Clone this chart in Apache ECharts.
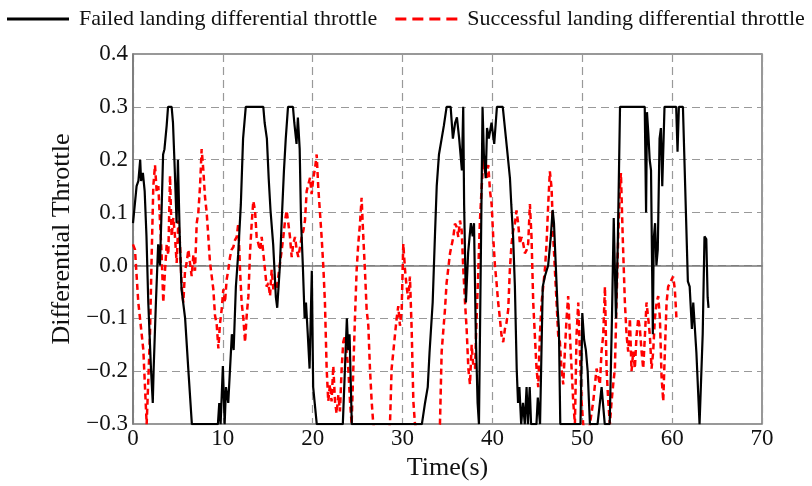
<!DOCTYPE html>
<html>
<head>
<meta charset="utf-8">
<script src="https://cdn.jsdelivr.net/npm/echarts@6/dist/echarts.min.js"></script>
<style>html,body{margin:0;padding:0;background:#fff}#c{width:812px;height:486px}</style>
</head>
<body>
<div id="c"></div>
<script>
var xTicks = [0, 10, 20, 30, 40, 50, 60, 70];
var yTicks = [-0.3, -0.2, -0.1, 0.0, 0.1, 0.2, 0.3, 0.4];
var seriesNames = ['Failed landing differential throttle', 'Successful landing differential throttle'];

var failedData = [
[0,0.08],[0.4,0.15],[0.6,0.16],[0.8,0.2],[0.9,0.16],[1.1,0.175],[1.3,0.14],[1.5,0.055],[1.7,-0.07],[2.0,-0.195],
[2.2,-0.26],[2.3,-0.195],[2.55,-0.07],[2.8,0.04],[3.0,0.0],[3.2,0.115],[3.35,0.21],[3.5,0.22],[3.75,0.265],[3.9,0.3],
[4.3,0.3],[4.45,0.27],[4.65,0.18],[4.85,0.08],[5.0,0.2],[5.2,0.055],[5.4,-0.045],[5.8,-0.1],[6.15,-0.195],[6.55,-0.3],
[9.45,-0.3],[9.6,-0.26],[9.75,-0.3],[10.0,-0.19],[10.2,-0.3],[10.35,-0.23],[10.6,-0.26],[11.0,-0.13],[11.2,-0.16],[11.45,-0.04],
[11.7,0.02],[12.0,0.115],[12.25,0.24],[12.55,0.3],[14.5,0.3],[14.65,0.27],[14.9,0.24],[15.1,0.165],[15.3,0.105],[15.6,0.04],
[15.9,-0.06],[16.05,-0.08],[16.35,0.0],[16.55,0.085],[16.8,0.18],[17.0,0.24],[17.25,0.3],[17.8,0.3],[17.95,0.27],[18.2,0.23],
[18.35,0.28],[18.55,0.22],[18.7,0.085],[18.9,0.0],[19.1,-0.1],[19.25,-0.07],[19.45,-0.13],[19.65,-0.195],[19.9,-0.01],[20.05,-0.23],
[20.45,-0.3],[23.35,-0.3],[23.8,-0.1],[23.95,-0.16],[24.1,-0.13],[24.35,-0.3],[32.15,-0.3],[32.5,-0.26],[32.8,-0.23],[33.0,-0.165],
[33.35,-0.07],[33.6,0.055],[33.8,0.15],[34.05,0.21],[34.35,0.24],[34.6,0.265],[34.9,0.3],[35.35,0.3],[35.6,0.24],[35.85,0.27],
[36.05,0.28],[36.3,0.24],[36.6,0.18],[36.75,0.3],[36.85,0.115],[37.05,-0.07],[37.3,0.025],[37.6,0.08],[37.8,0.055],[37.95,0.08],
[38.15,-0.13],[38.35,-0.26],[38.5,-0.3],[38.7,-0.3],[38.9,0.3],[39.05,0.21],[39.25,0.165],[39.4,0.26],[39.6,0.24],[39.9,0.27],
[40.2,0.23],[40.5,0.3],[41.15,0.3],[41.6,0.225],[41.95,0.165],[42.1,0.115],[42.3,0.055],[42.5,-0.04],[42.7,-0.195],[42.85,-0.26],
[43.0,-0.23],[43.2,-0.3],[43.4,-0.26],[43.6,-0.3],[43.8,-0.23],[43.95,-0.3],[44.15,-0.23],[44.3,-0.3],[44.9,-0.3],[45.05,-0.25],
[45.3,-0.3],[45.6,-0.04],[45.85,-0.02],[46.2,0.0],[46.5,0.055],[46.7,0.105],[46.85,0.08],[47.05,0.0],[47.25,-0.08],[47.4,-0.12],
[47.55,-0.3],[49.8,-0.3],[50.0,-0.09],[50.2,-0.14],[50.4,-0.16],[50.6,-0.2],[50.85,-0.3],[51.7,-0.3],[52.15,-0.23],[52.5,-0.3],
[53.05,-0.3],[53.3,-0.1],[53.5,0.09],[53.75,-0.1],[53.95,0.04],[54.2,0.3],[56.95,0.3],[57.1,0.1],[57.2,0.29],[57.35,0.25],
[57.5,0.2],[57.65,0.18],[57.85,-0.13],[57.95,0.05],[58.1,0.08],[58.25,0.0],[58.4,0.03],[58.6,0.24],[58.75,0.26],[58.9,0.15],
[59.15,0.3],[60.45,0.3],[60.6,0.215],[60.75,0.3],[61.2,0.3],[61.75,-0.03],[61.95,-0.04],[62.2,-0.12],[62.35,-0.07],[62.7,-0.165],
[63.05,-0.3],[63.2,-0.3],[63.4,-0.13],[63.6,0.055],[63.8,0.05],[63.95,-0.06],[64.05,-0.08]
];

var successData = [
[0.0,0.04],[0.22,0.03],[0.59,-0.07],[0.78,-0.10],[1.15,-0.16],[1.52,-0.30],[1.89,-0.13],[2.08,0.02],[2.26,0.15],[2.45,0.19],
[2.63,0.14],[2.82,0.15],[3.0,0.085],[3.19,0.02],[3.37,-0.07],[3.56,-0.01],[3.75,0.04],[3.93,0.02],[4.12,0.17],[4.3,0.055],
[4.49,0.09],[4.67,0.055],[4.86,0.005],[5.05,0.085],[5.23,0.04],[5.42,-0.04],[5.6,-0.07],[5.79,-0.01],[5.97,0.005],[6.16,0.03],
[6.34,0.005],[6.53,-0.02],[6.72,0.02],[6.9,-0.01],[7.09,0.08],[7.27,0.10],[7.46,0.15],[7.64,0.22],[7.83,0.18],[8.01,0.13],
[8.2,0.10],[8.38,0.055],[8.57,0.005],[8.76,-0.02],[8.94,-0.045],[9.13,-0.095],[9.31,-0.11],[9.5,-0.157],[9.68,-0.11],[9.87,-0.083],
[10.05,-0.045],[10.24,-0.07],[10.42,-0.027],[10.61,-0.008],[10.8,0.016],[10.98,0.03],[11.17,0.035],[11.35,0.048],[11.54,0.054],[11.72,0.08],
[11.91,-0.008],[12.09,-0.07],[12.28,-0.10],[12.47,-0.145],[12.65,-0.095],[12.84,-0.058],[13.02,0.023],[13.21,0.08],[13.39,0.122],[13.58,0.104],
[13.76,0.054],[13.95,0.041],[14.13,0.029],[14.32,0.054],[14.5,0.054],[14.69,-0.008],[14.88,-0.04],[15.06,-0.033],[15.25,-0.058],[15.43,-0.008],
[15.62,-0.045],[15.8,-0.033],[15.99,-0.045],[16.36,0.004],[16.55,0.029],[16.73,0.054],[16.92,0.085],[17.1,0.104],[17.29,0.079],[17.47,0.054],
[17.66,0.016],[17.84,0.041],[18.03,0.054],[18.22,0.029],[18.4,0.016],[18.59,0.035],[18.77,0.054],[18.96,0.066],[19.14,0.085],[19.33,0.141],
[19.51,0.153],[19.7,0.166],[19.88,0.135],[20.07,0.166],[20.26,0.184],[20.44,0.21],[20.62,0.147],[20.99,0.054],[21.18,-0.002],[21.36,-0.07],
[21.55,-0.195],[21.73,-0.257],[21.92,-0.225],[22.1,-0.257],[22.29,-0.19],[22.48,-0.257],[22.66,-0.28],[22.85,-0.245],[23.03,-0.276],[23.22,-0.195],
[23.4,-0.145],[23.59,-0.132],[23.77,-0.163],[23.96,-0.195],[24.15,-0.257],[24.33,-0.3],[24.52,-0.195],[24.7,-0.10],[24.89,-0.008],[25.07,0.041],
[25.26,0.079],[25.44,0.128],[25.63,0.054],[25.81,-0.008],[26.0,-0.083],[26.19,-0.114],[26.37,-0.195],[26.56,-0.257],[26.74,-0.3],[27.6,-0.36],
[28.6,-0.3],[28.78,-0.195],[28.97,-0.163],[29.15,-0.132],[29.34,-0.10],[29.52,-0.077],[29.71,-0.114],[29.9,-0.083],[30.08,0.041],[30.27,-0.008],
[30.45,-0.04],[30.64,-0.064],[30.82,-0.021],[31.01,-0.12],[31.2,-0.257],[31.38,-0.3],[32.8,-0.38],[34.16,-0.3],[34.35,-0.163],[34.72,-0.083],
[34.9,-0.033],[35.28,0.023],[35.65,0.054],[35.83,0.079],[36.02,0.073],[36.2,0.054],[36.39,0.085],[36.58,0.066],[36.76,-0.008],[36.95,-0.07],
[37.13,-0.12],[37.32,-0.195],[37.5,-0.225],[37.69,-0.15],[37.87,-0.19],[38.06,-0.195],[38.24,-0.10],[38.43,-0.008],[38.61,0.085],[38.8,0.147],
[38.99,0.203],[39.17,0.178],[39.36,0.166],[39.54,0.19],[39.73,0.141],[39.91,0.116],[40.1,0.05],[40.28,0.0],[40.46,-0.033],[40.64,-0.07],
[40.83,-0.10],[41.01,-0.132],[41.2,-0.145],[41.39,-0.12],[41.57,-0.108],[41.76,-0.083],[41.94,-0.008],[42.13,0.041],[42.31,0.066],[42.5,0.079],
[42.68,0.104],[42.87,0.079],[43.06,0.041],[43.24,0.054],[43.43,0.041],[43.61,0.023],[43.8,0.029],[43.98,0.041],[44.17,0.116],[44.35,0.054],
[44.54,-0.07],[44.72,-0.132],[44.91,-0.195],[45.1,-0.23],[45.28,-0.132],[45.47,-0.07],[45.65,-0.04],[45.84,-0.008],[46.02,0.041],[46.21,0.116],
[46.39,0.178],[46.58,0.147],[46.77,0.054],[46.95,-0.008],[47.14,-0.07],[47.32,-0.132],[47.51,-0.145],[47.69,-0.195],[47.88,-0.225],[48.06,-0.163],
[48.25,-0.10],[48.43,-0.058],[48.62,-0.132],[48.81,-0.195],[48.99,-0.257],[49.18,-0.3],[49.36,-0.132],[49.55,-0.07],[49.73,-0.163],[49.92,-0.257],
[50.1,-0.3],[50.5,-0.33],[50.85,-0.3],[51.22,-0.257],[51.59,-0.195],[51.96,-0.225],[52.14,-0.163],[52.33,-0.132],[52.52,-0.04],[52.7,-0.195],
[52.89,-0.257],[53.07,-0.3],[53.26,-0.257],[53.44,-0.225],[53.63,-0.195],[53.81,-0.07],[54.0,0.054],[54.19,0.147],[54.3,0.175],[54.5,0.054],
[54.74,-0.07],[54.93,-0.132],[55.11,-0.163],[55.3,-0.10],[55.48,-0.2],[55.67,-0.163],[55.85,-0.195],[56.04,-0.132],[56.23,-0.10],[56.41,-0.12],
[56.6,-0.163],[56.78,-0.195],[56.97,-0.132],[57.15,-0.07],[57.34,-0.10],[57.52,-0.132],[57.71,-0.195],[57.89,-0.163],[58.08,-0.10],[58.27,-0.07],
[58.45,-0.058],[58.64,-0.10],[58.82,-0.21],[59.01,-0.257],[59.19,-0.163],[59.38,-0.07],[59.56,-0.04],[59.93,-0.027],[60.11,-0.021],[60.3,-0.045],
[60.48,-0.10]
];

var FONT = '"Liberation Serif", "Times New Roman", serif';
var chart = echarts.init(document.getElementById('c'), null, {renderer: 'canvas'});

function yFmt(v) {
  var r = Math.round(v * 10) / 10;
  return (r < 0 ? '\u2212' : '') + Math.abs(r).toFixed(1);
}

var solidIcon = 'path://M0,0 L62,0 L62,3 L0,3 Z';
var dashIcon = 'path://M0,0 L11,0 L11,3 L0,3 Z M17,0 L28,0 L28,3 L17,3 Z M34,0 L45,0 L45,3 L34,3 Z M51,0 L62,0 L62,3 L51,3 Z';

chart.setOption({
  animation: false,
  backgroundColor: '#fff',
  legend: {
    left: 7, top: 8, width: 805, padding: 0, itemWidth: 62, itemHeight: 3, itemGap: 18,
    data: [
      {name: seriesNames[0], icon: solidIcon, itemStyle: {color: '#000'}},
      {name: seriesNames[1], icon: dashIcon, itemStyle: {color: '#ff0000'}}
    ],
    textStyle: {fontFamily: FONT, fontSize: 22, color: '#111', padding: [0, 0, 0, 5]}
  },
  grid: {left: 133, right: 50, top: 54, bottom: 56, show: true, borderColor: '#777', borderWidth: 1.5, backgroundColor: 'transparent'},
  xAxis: {
    type: 'value', min: xTicks[0], max: xTicks[xTicks.length - 1], interval: 10,
    name: 'Time(s)', nameLocation: 'middle', nameGap: 22,
    nameTextStyle: {fontFamily: FONT, fontSize: 26, color: '#111'},
    axisLine: {show: true, lineStyle: {color: '#777', width: 1.5}},
    axisTick: {show: false},
    axisLabel: {fontFamily: FONT, fontSize: 23, color: '#111', margin: 3},
    splitLine: {show: true, lineStyle: {color: '#999', width: 1.2, type: [8, 5]}}
  },
  yAxis: {
    type: 'value', min: yTicks[0], max: yTicks[yTicks.length - 1], interval: 0.1,
    name: 'Differential Throttle', nameLocation: 'middle', nameGap: 50,
    nameTextStyle: {fontFamily: FONT, fontSize: 26, color: '#111'},
    axisLine: {show: true, lineStyle: {color: '#777', width: 1.5}},
    axisTick: {show: false},
    axisLabel: {fontFamily: FONT, fontSize: 23, color: '#111', margin: 5, formatter: yFmt},
    splitLine: {show: true, lineStyle: {color: '#999', width: 1.2, type: [8, 5]}}
  },
  series: [
    {
      name: seriesNames[0], type: 'line', data: failedData, showSymbol: false, symbol: 'none',
      lineStyle: {color: '#000', width: 2.2}, itemStyle: {color: '#000'}, clip: true, z: 3
    },
    {
      name: seriesNames[1], type: 'line', data: successData, showSymbol: false, symbol: 'none',
      lineStyle: {color: '#ff0000', width: 2.5, type: [6, 4]}, itemStyle: {color: '#ff0000'}, clip: true, z: 2
    }
  ]
});
</script>
</body>
</html>
